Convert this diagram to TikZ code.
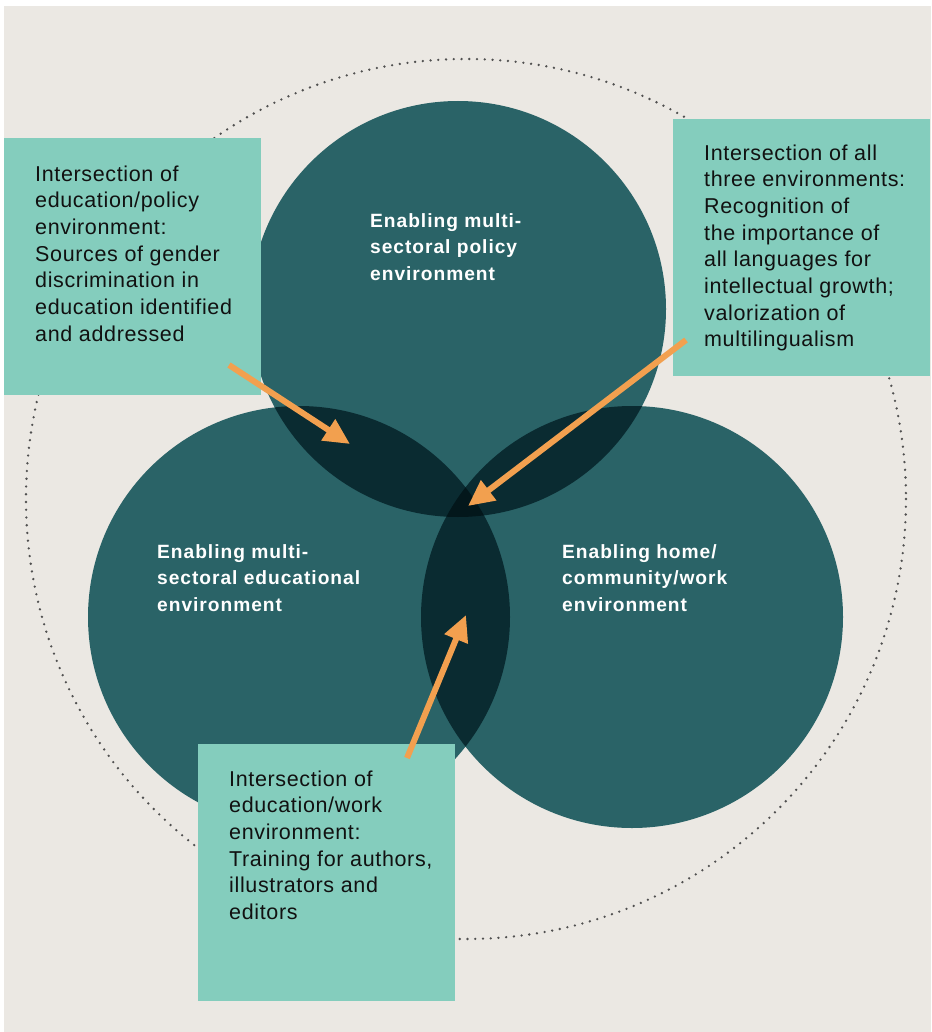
\documentclass[tikz,border=0pt]{standalone}
\usepackage{fontspec}
\setmainfont{Liberation Sans}
\newfontfamily\boxfont{Liberation Sans}[LetterSpace=3]
\newfontfamily\labfont{Liberation Sans}[LetterSpace=5]
\usetikzlibrary{arrows.meta}
\definecolor{bgc}{HTML}{EBE8E3}
\definecolor{tealA}{HTML}{2A6367}
\definecolor{tealB}{HTML}{0A2B31}
\definecolor{tealC}{HTML}{03171B}
\definecolor{boxc}{HTML}{84CDBD}
\definecolor{arrc}{HTML}{F2A04F}
\definecolor{dotc}{HTML}{505050}
\definecolor{txtc}{HTML}{111111}
\begin{document}
\begin{tikzpicture}[x=1pt,y=-1pt,
  panel/.style={fill=boxc, draw=none, minimum width=257pt, minimum height=257pt, anchor=north west, inner sep=0pt},
  paneltext/.style={anchor=base west, inner sep=0pt, align=left, text=txtc, font=\boxfont\fontsize{21.5}{26.7}\selectfont},
  circlabel/.style={anchor=base west, inner sep=0pt, align=left, text=white, font=\labfont\bfseries\fontsize{19.2}{26.6}\selectfont},
  pointer/.style={draw=arrc, line width=6pt, -{Triangle[length=26pt, width=24pt]}}
]
\useasboundingbox (0,0) rectangle (931,1032);
\fill[white] (0,0) rectangle (931,1032);
\fill[bgc] (4,6) rectangle (931,1032);
% dotted outer circle
\coordinate (cO) at (466,499);
\draw[dotc, line width=2.6pt, line cap=round, dash pattern=on 0pt off 7.75pt] (cO) circle[radius=440];
% three circles
\coordinate (cT) at (458,309);
\coordinate (cL) at (299,617);
\coordinate (cR) at (632,617);
\fill[tealA] (cT) circle[radius=208];
\fill[tealA] (cL) circle[radius=211];
\fill[tealA] (cR) circle[radius=211];
\begin{scope}
  \clip (cT) circle[radius=208];
  \fill[tealB] (cL) circle[radius=211];
  \fill[tealB] (cR) circle[radius=211];
\end{scope}
\begin{scope}
  \clip (cL) circle[radius=211];
  \fill[tealB] (cR) circle[radius=211];
  \clip (cT) circle[radius=208];
  \fill[tealC] (cR) circle[radius=211];
\end{scope}
% circle labels (anchored at the last line's baseline)
\node[circlabel] (labT) at (370,280.2) {Enabling multi-\\sectoral policy\\environment};
\node[circlabel] (labL) at (157,611.2) {Enabling multi-\\sectoral educational\\environment};
\node[circlabel] (labR) at (562,611.2) {Enabling home/\\community/work\\environment};
% panels
\node[panel] (boxL) at (4,138) {};
\node[panel] (boxR) at (673,119) {};
\node[panel] (boxB) at (198,744) {};
\node[paneltext] (txtL) at (35,341.2) {Intersection of\\education/policy\\environment:\\Sources of gender\\discrimination in\\education identified\\and addressed};
\node[paneltext] (txtR) at (704,346.9) {Intersection of all\\three environments:\\Recognition of\\the importance of\\all languages for\\intellectual growth;\\valorization of\\multilingualism};
\node[paneltext] (txtB) at (229,919.5) {Intersection of\\education/work\\environment:\\Training for authors,\\illustrators and\\editors};
% arrows
\coordinate (aLs) at (229,365);
\coordinate (aLe) at (350,444);
\coordinate (aRs) at (686,340);
\coordinate (aRe) at (468,506);
\coordinate (aBs) at (407,758);
\coordinate (aBe) at (466,615);
\draw[pointer] (aLs) -- (aLe);
\draw[pointer] (aRs) -- (aRe);
\draw[pointer] (aBs) -- (aBe);
\end{tikzpicture}
\end{document}
